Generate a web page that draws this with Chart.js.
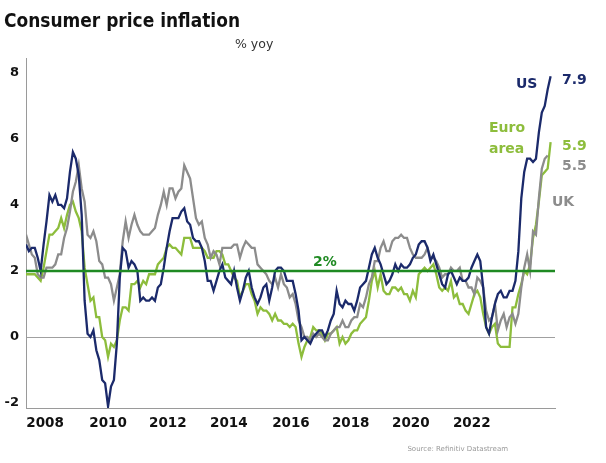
<!DOCTYPE html>
<html>
<head>
<meta charset="utf-8">
<script src="https://cdn.jsdelivr.net/npm/chart.js@4/dist/chart.umd.min.js"></script>
<style>
  body { margin: 0; background: #fff; }
  #wrap { width: 606px; height: 463px; position: relative; }
</style>
</head>
<body>
<div id="wrap"><canvas id="chart"></canvas></div>
<script>
// monthly, Mar 2007 .. Feb 2022 (index 0 = Mar 2007)
const us = [
  2.8, 2.6, 2.7, 2.7, 2.4, 2.0, 2.8, 3.5, 4.3, 4.1,
  4.3, 4.0, 4.0, 3.9, 4.2, 5.0, 5.6, 5.4, 4.9, 3.7, 1.1, 0.1,
  0.0, 0.2, -0.4, -0.7, -1.3, -1.4, -2.1, -1.5, -1.3, -0.2, 1.8, 2.7,
  2.6, 2.1, 2.3, 2.2, 2.0, 1.1, 1.2, 1.1, 1.1, 1.2, 1.1, 1.5,
  1.6, 2.1, 2.7, 3.2, 3.6, 3.6, 3.6, 3.8, 3.9, 3.5, 3.4, 3.0,
  2.9, 2.9, 2.7, 2.3, 1.7, 1.7, 1.4, 1.7, 2.0, 2.2, 1.8, 1.7,
  1.6, 2.0, 1.5, 1.1, 1.4, 1.8, 2.0, 1.5, 1.2, 1.0, 1.2, 1.5,
  1.6, 1.1, 1.5, 2.0, 2.1, 2.1, 2.0, 1.7, 1.7, 1.7, 1.3, 0.8,
  -0.1, 0.0, -0.1, -0.2, 0.0, 0.1, 0.2, 0.2, 0.0, 0.2, 0.5, 0.7,
  1.4, 1.0, 0.9, 1.1, 1.0, 1.0, 0.8, 1.1, 1.5, 1.6, 1.7, 2.1,
  2.5, 2.7, 2.4, 2.2, 1.9, 1.6, 1.7, 1.9, 2.2, 2.0, 2.2, 2.1,
  2.1, 2.2, 2.4, 2.5, 2.8, 2.9, 2.9, 2.7, 2.3, 2.5, 2.2, 1.9,
  1.6, 1.5, 1.9, 2.0, 1.8, 1.6, 1.8, 1.7, 1.7, 1.8, 2.1, 2.3,
  2.5, 2.3, 1.5, 0.3, 0.1, 0.6, 1.0, 1.3, 1.4, 1.2, 1.2, 1.4,
  1.4, 1.7, 2.6, 4.2, 5.0, 5.4, 5.4, 5.3, 5.4, 6.2, 6.8, 7.0,
  7.5, 7.9
];
const euro = [
  1.9, 1.9, 1.9, 1.9, 1.8, 1.7, 2.1, 2.6, 3.1, 3.1,
  3.2, 3.3, 3.6, 3.3, 3.7, 4.0, 4.1, 3.8, 3.6, 3.2, 2.1, 1.6,
  1.1, 1.2, 0.6, 0.6, 0.0, -0.1, -0.6, -0.2, -0.3, -0.1, 0.5, 0.9,
  0.9, 0.8, 1.6, 1.6, 1.7, 1.5, 1.7, 1.6, 1.9, 1.9, 1.9, 2.2,
  2.3, 2.4, 2.7, 2.8, 2.7, 2.7, 2.6, 2.5, 3.0, 3.0, 3.0, 2.7,
  2.7, 2.7, 2.7, 2.6, 2.4, 2.4, 2.4, 2.6, 2.6, 2.5, 2.2, 2.2,
  2.0, 1.8, 1.7, 1.2, 1.4, 1.6, 1.6, 1.3, 1.1, 0.7, 0.9, 0.8,
  0.8, 0.7, 0.5, 0.7, 0.5, 0.5, 0.4, 0.4, 0.3, 0.4, 0.3, -0.2,
  -0.6, -0.3, -0.1, 0.0, 0.3, 0.2, 0.2, 0.1, -0.1, 0.1, 0.1, 0.2,
  0.3, -0.2, 0.0, -0.2, -0.1, 0.1, 0.2, 0.2, 0.4, 0.5, 0.6, 1.1,
  1.7, 2.0, 1.5, 1.9, 1.4, 1.3, 1.3, 1.5, 1.5, 1.4, 1.5, 1.3,
  1.3, 1.1, 1.4, 1.2, 1.9, 2.0, 2.1, 2.0, 2.1, 2.2, 1.9, 1.5,
  1.4, 1.5, 1.4, 1.7, 1.2, 1.3, 1.0, 1.0, 0.8, 0.7, 1.0, 1.3,
  1.4, 1.2, 0.7, 0.3, 0.1, 0.3, 0.4, -0.2, -0.3, -0.3, -0.3, -0.3,
  0.9, 0.9, 1.3, 1.6, 2.0, 1.9, 2.2, 3.0, 3.4, 4.1, 4.9, 5.0,
  5.1, 5.9
];
const uk = [
  3.1, 2.8, 2.5, 2.4, 1.9, 1.8, 1.8, 2.1, 2.1, 2.1,
  2.2, 2.5, 2.5, 3.0, 3.3, 3.8, 4.4, 4.7, 5.2, 4.5, 4.1, 3.1,
  3.0, 3.2, 2.9, 2.3, 2.2, 1.8, 1.8, 1.6, 1.1, 1.5, 1.9, 2.9,
  3.5, 3.0, 3.4, 3.7, 3.4, 3.2, 3.1, 3.1, 3.1, 3.2, 3.3, 3.7,
  4.0, 4.4, 4.0, 4.5, 4.5, 4.2, 4.4, 4.5, 5.2, 5.0, 4.8, 4.2,
  3.6, 3.4, 3.5, 3.0, 2.8, 2.4, 2.6, 2.5, 2.2, 2.7, 2.7, 2.7,
  2.7, 2.8, 2.8, 2.4, 2.7, 2.9, 2.8, 2.7, 2.7, 2.2, 2.1, 2.0,
  1.9, 1.7, 1.6, 1.8, 1.5, 1.9, 1.6, 1.5, 1.2, 1.3, 1.0, 0.5,
  0.3, 0.0, 0.0, -0.1, 0.1, 0.0, 0.1, 0.0, -0.1, -0.1, 0.1, 0.2,
  0.3, 0.3, 0.5, 0.3, 0.3, 0.5, 0.6, 0.6, 1.0, 0.9, 1.2, 1.6,
  1.8, 2.3, 2.3, 2.7, 2.9, 2.6, 2.6, 2.9, 3.0, 3.0, 3.1, 3.0,
  3.0, 2.7, 2.5, 2.4, 2.4, 2.4, 2.5, 2.7, 2.4, 2.4, 2.3, 2.1,
  1.8, 1.9, 1.9, 2.1, 2.0, 2.0, 2.1, 1.7, 1.7, 1.5, 1.5, 1.3,
  1.8, 1.7, 1.5, 0.8, 0.5, 0.6, 1.0, 0.2, 0.5, 0.7, 0.3, 0.6,
  0.7, 0.4, 0.7, 1.5, 2.1, 2.5, 2.0, 3.2, 3.1, 4.2, 5.1, 5.4,
  5.5, null
];
const target = 2;

// year labels sit where the original chart put them (month index)
const xTickLabels = ['2008', '2010', '2012', '2014', '2016', '2018', '2020', '2022'];
const xTickPos = [6.5, 28, 48.4, 69.2, 90.4, 110.8, 131.3, 152.1];
const yTicks = [-2, 0, 2, 4, 6, 8];

const NAVY = '#1b2a6b';
const LIME = '#8dbd3c';
const GREY = '#8c8c8c';
const GREEN = '#1f8a22';

const toPoints = arr => arr.map((v, i) => ({x: i, y: v}));

// squeeze text to a given width (the original uses a narrower face)
function fitText(ctx, str, x, y, width) {
    const w = ctx.measureText(str).width;
    ctx.save();
    ctx.translate(x, y);
    ctx.scale(Math.min(1, width / w), 1);
    ctx.fillText(str, 0, 0);
    ctx.restore();
}

const textPlugin = {
    id: 'texts',
    afterDraw(chart) {
        const ctx = chart.ctx;
        ctx.save();
        ctx.textBaseline = 'alphabetic';
        ctx.textAlign = 'left';

        ctx.fillStyle = '#111';
        ctx.font = 'bold 20px "DejaVu Sans"';
        fitText(ctx, 'Consumer price inflation', 4, 27, 236);

        ctx.fillStyle = '#333';
        ctx.font = '12.5px "DejaVu Sans"';
        ctx.fillText('% yoy', 235, 48);

        ctx.font = 'bold 14px "DejaVu Sans"';
        ctx.fillStyle = NAVY;
        ctx.fillText('US', 516, 88);
        ctx.fillText('7.9', 562, 84);
        ctx.fillStyle = LIME;
        ctx.fillText('Euro', 489, 132);
        ctx.fillText('area', 489, 153);
        ctx.fillText('5.9', 562, 150);
        ctx.fillStyle = GREY;
        ctx.fillText('5.5', 562, 170);
        ctx.fillText('UK', 552, 206);
        ctx.fillStyle = GREEN;
        ctx.fillText('2%', 313, 266);

        ctx.fillStyle = '#999';
        ctx.font = '7px "DejaVu Sans"';
        ctx.textAlign = 'right';
        ctx.fillText('Source: Refinitiv Datastream', 508, 451);
        ctx.restore();
    }
};

new Chart(document.getElementById('chart'), {
    type: 'line',
    data: {
        datasets: [
            {
                label: 'Target',
                data: [{x: 0, y: target}, {x: 180.5, y: target}],
                borderColor: GREEN,
                borderWidth: 2.5,
                order: 0,
            },
            {
                label: 'US',
                data: toPoints(us),
                borderColor: NAVY,
                order: 1,
            },
            {
                label: 'UK',
                data: toPoints(uk),
                borderColor: GREY,
                order: 2,
            },
            {
                label: 'Euro area',
                data: toPoints(euro),
                borderColor: LIME,
                order: 3,
            },
        ]
    },
    options: {
        responsive: true,
        maintainAspectRatio: false,
        animation: false,
        layout: { padding: { top: 58, right: 51, left: 0, bottom: 0 } },
        elements: {
            line: { tension: 0, borderWidth: 2.3 },
            point: { radius: 0 }
        },
        plugins: {
            legend: { display: false },
            tooltip: { enabled: false },
        },
        scales: {
            x: {
                type: 'linear',
                min: 0,
                max: 180.5,
                afterBuildTicks: scale => { scale.ticks = xTickPos.map(v => ({value: v})); },
                afterFit: scale => { scale.height = 55; },
                grid: { display: false, drawTicks: false },
                border: { display: true, color: '#9a9a9a', width: 1 },
                ticks: {
                    autoSkip: false,
                    maxRotation: 0,
                    padding: 7,
                    color: '#111',
                    font: { family: 'DejaVu Sans', weight: 'bold', size: 13.5 },
                    callback: (v, i) => xTickLabels[i],
                }
            },
            y: {
                min: -2.15,
                max: 8.45,
                afterBuildTicks: scale => { scale.ticks = yTicks.map(v => ({value: v})); },
                afterFit: scale => { scale.width = 26; },
                grid: {
                    drawTicks: false,
                    color: c => c.tick && c.tick.value === 0 ? '#a0a0a0' : 'rgba(0,0,0,0)',
                    lineWidth: 1,
                },
                border: { display: true, color: '#9a9a9a', width: 1 },
                ticks: {
                    padding: 7,
                    color: '#111',
                    font: { family: 'DejaVu Sans', weight: 'bold', size: 13 },
                }
            }
        }
    },
    plugins: [textPlugin]
});
</script>
</body>
</html>
